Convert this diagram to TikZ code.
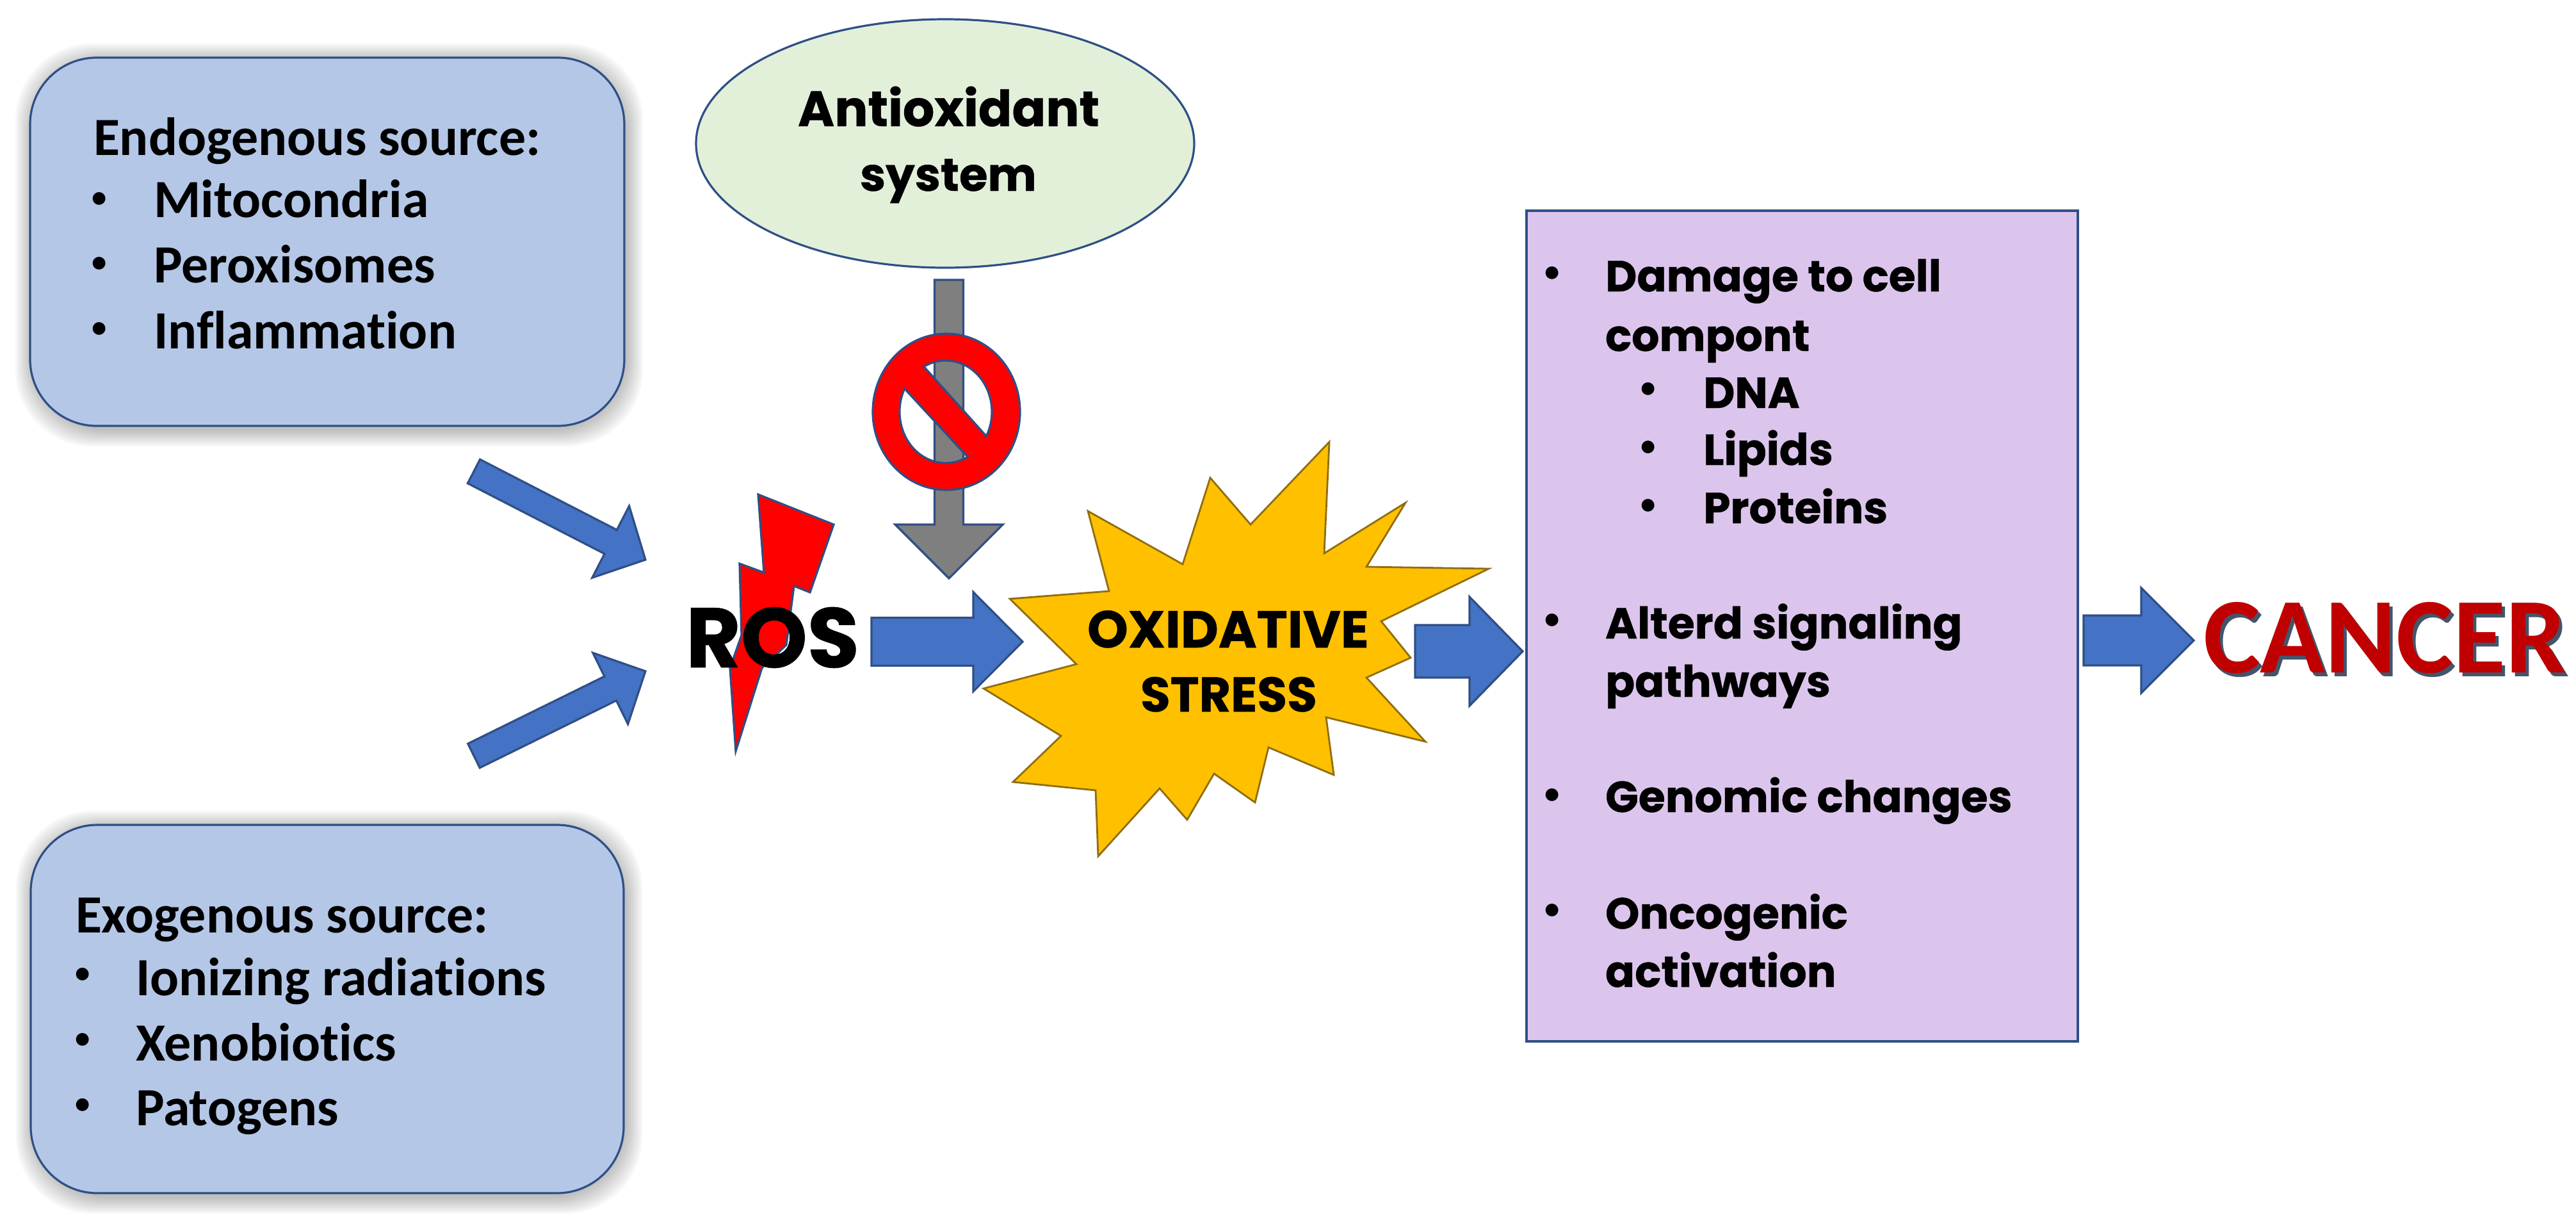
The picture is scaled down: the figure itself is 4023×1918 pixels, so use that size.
\documentclass[tikz,border=0pt]{standalone}
\usepackage{fontspec}
\usetikzlibrary{calc}
\setmainfont{Carlito}[Ligatures=NoCommon]
\newfontfamily\geo[BoldFeatures={FakeBold=0.6}]{Poppins}
\definecolor{edgeblue}{HTML}{2F4F85}
\definecolor{boxblue}{HTML}{B4C7E7}
\definecolor{arrowblue}{HTML}{4472C4}
\definecolor{leaf}{HTML}{E2F0D9}
\definecolor{lilac}{HTML}{DCC5EC}
\definecolor{burst}{HTML}{FFC000}
\definecolor{burstedge}{HTML}{8F6E12}
\definecolor{shaft}{HTML}{7F7F7F}
\definecolor{cancerred}{HTML}{C00000}
\definecolor{cancershade}{HTML}{44546A}
\tikzset{
  x=0.25pt,y=-0.25pt,
  outline/.style={draw=edgeblue,line width=0.8pt,line join=miter},
  sourcebox/.style={outline,fill=boxblue,rounded corners=26pt},
  blockblue/.style={outline,fill=arrowblue},
  blockgrey/.style={outline,fill=shaft},
  nosign/.style={outline,fill=red,even odd rule},
  lab/.style={inner sep=0pt,outer sep=0pt,anchor=base west},
  srctxt/.style={lab,yshift=-0.6pt,font=\fontsize{21pt}{25pt}\bfseries},
  bultxt/.style={lab,yshift=-0.5pt,font=\geo\fontsize{17pt}{20pt}\bfseries},
  dotmark/.style={inner sep=0pt,outer sep=0pt,anchor=center,font=\fontsize{11.7pt}{14pt}\bfseries},
}
% from, to, half shaft, half head, head length (in reference pixels)
\newcommand{\blockarrow}[6]{%
  \draw[#1] let \p1=($(#3)-(#2)$),\n1={atan2(\y1,\x1)},\n2={veclen(\x1,\y1)} in
    [shift={(#2)},rotate=\n1]
    (0pt,{#4*0.25pt}) -- ({\n2-#6*0.25pt},{#4*0.25pt}) -- ({\n2-#6*0.25pt},{#5*0.25pt})
    -- (\n2,0pt) -- ({\n2-#6*0.25pt},{-#5*0.25pt}) -- ({\n2-#6*0.25pt},{-#4*0.25pt})
    -- (0pt,{-#4*0.25pt}) -- cycle;}
\newcommand{\softshadow}[4]{%
  \foreach \g in {1,...,9}{
    \fill[black,opacity=0.03,rounded corners=30pt]
      ({#1-\g*3+4},{#2-\g*3+5}) rectangle ({#3+\g*3+2},{#4+\g*3+5});}}
\begin{document}
\begin{tikzpicture}
\useasboundingbox (0,0) rectangle (4023,1918);

% source boxes
\softshadow{47}{90}{975}{665}
\softshadow{48}{1288}{974}{1863}
\draw[sourcebox] (47,90) rectangle (975,665);
\draw[sourcebox] (48,1288) rectangle (974,1863);

\node[srctxt] (endo0) at (146,240) {Endogenous source:};
\node[dotmark] (endob1) at (155,312) {•};
\node[srctxt] (endo1) at (240,337) {Mitocondria};
\node[dotmark] (endob2) at (155,413) {•};
\node[srctxt] (endo2) at (240,439) {Peroxisomes};
\node[dotmark] (endob3) at (155,515) {•};
\node[srctxt] (endo3) at (240,542) {Inflammation};

\node[srctxt] (exo0) at (118,1454) {Exogenous source:};
\node[dotmark] (exob1) at (129,1523) {•};
\node[srctxt] (exo1) at (212,1552) {Ionizing radiations};
\node[dotmark] (exob2) at (129,1625) {•};
\node[srctxt] (exo2) at (212,1654) {Xenobiotics};
\node[dotmark] (exob3) at (129,1727) {•};
\node[srctxt] (exo3) at (212,1755) {Patogens};

% antioxidant
\draw[outline,fill=leaf] (1476,224) ellipse [x radius=389,y radius=194];
\node[bultxt,font=\geo\fontsize{19.4pt}{23pt}\bfseries] (anti1) at (1246,195) {Antioxidant};
\node[bultxt,font=\geo\fontsize{18pt}{23pt}\bfseries] (anti2) at (1343,296) {system};

% block arrows
\coordinate (a1s) at (740,736);   \coordinate (a1e) at (1008,874);
\coordinate (a2s) at (740,1180);  \coordinate (a2e) at (1008,1048);
\coordinate (a3s) at (1361,1002); \coordinate (a3e) at (1597,1002);
\coordinate (a4s) at (2210,1017); \coordinate (a4e) at (2378,1017);
\coordinate (a5s) at (3254,1000); \coordinate (a5e) at (3426,1000);
\coordinate (a6s) at (1482,437);  \coordinate (a6e) at (1482,903);
\blockarrow{blockblue}{a1s}{a1e}{21}{63}{61}
\blockarrow{blockblue}{a2s}{a2e}{21}{62}{61}
\blockarrow{blockblue}{a3s}{a3e}{37.5}{77.5}{77}
\blockarrow{blockblue}{a4s}{a4e}{41}{85}{83}
\blockarrow{blockblue}{a5s}{a5e}{39}{82}{82}
\blockarrow{blockgrey}{a6s}{a6e}{22.5}{84}{84}

% prohibition sign
\draw[nosign]
  (1478,643) ellipse [x radius=115,y radius=122]
  (1412.7,606.9) arc[start angle=206.8,end angle=61.7,x radius=72,y radius=80] -- cycle
  (1540.3,681) arc[start angle=28.4,end angle=-118.3,x radius=72,y radius=80] -- cycle;

% lightning
\draw[outline,fill=red] (1184,772) -- (1302,819) -- (1265,925) -- (1240,915) -- (1228,1007)
  -- (1190,1043) -- (1149,1173) -- (1140,1043) -- (1158,992) -- (1155,880) -- (1193,894) -- cycle;
\node[lab,font=\geo\fontsize{33pt}{36pt}\bfseries] (ros) at (1071,1042) {ROS};

% burst
\draw[draw=burstedge,line width=0.7pt,fill=burst]
  (2076,690) -- (2068,864) -- (2195,785) -- (2134,885) -- (2325,888) -- (2157,970)
  -- (2203,1027) -- (2134,1058) -- (2226,1158) -- (2071,1120) -- (2083,1210) -- (1981,1167)
  -- (1960,1253) -- (1896,1208) -- (1854,1280) -- (1811,1231) -- (1715,1337) -- (1711,1234)
  -- (1582,1221) -- (1657,1149) -- (1536,1075) -- (1681,1037) -- (1577,935) -- (1732,923)
  -- (1699,798) -- (1847,881) -- (1890,746) -- (1953,819) -- cycle;
\node[bultxt,font=\geo\fontsize{20.3pt}{23pt}\bfseries] (ox1) at (1698,1009) {OXIDATIVE};
\node[bultxt,font=\geo\fontsize{19pt}{23pt}\bfseries] (ox2) at (1781,1109) {STRESS};

% effects box
\draw[outline,fill=lilac] (2384,329) rectangle (3245,1626);
\foreach \n/\yy in {m1/428,m2/970,m3/1243,m4/1423}{
  \node[dotmark] (\n) at (2424,\yy) {•};}
\foreach \n/\yy in {s1/609,s2/700,s3/791}{
  \node[dotmark] (\n) at (2574,\yy) {•};}
\node[bultxt] (t1) at (2507,453) {Damage to cell};
\node[bultxt] (t2) at (2507,546) {compont};
\node[bultxt] (t3) at (2660,635) {DNA};
\node[bultxt] (t4) at (2660,724) {Lipids};
\node[bultxt] (t5) at (2660,815) {Proteins};
\node[bultxt] (t6) at (2507,995) {Alterd signaling};
\node[bultxt] (t7) at (2507,1086) {pathways};
\node[bultxt] (t8) at (2507,1266) {Genomic changes};
\node[bultxt] (t9) at (2507,1448) {Oncogenic};
\node[bultxt] (t10) at (2507,1539) {activation};

% cancer
\node[lab,font=\fontsize{42pt}{46pt}\bfseries,text=cancershade] (cancershadow) at (3446,1056) {CANCER};
\node[lab,font=\fontsize{42pt}{46pt}\bfseries,text=cancerred] (cancer) at (3441,1050) {CANCER};
\end{tikzpicture}
\end{document}
